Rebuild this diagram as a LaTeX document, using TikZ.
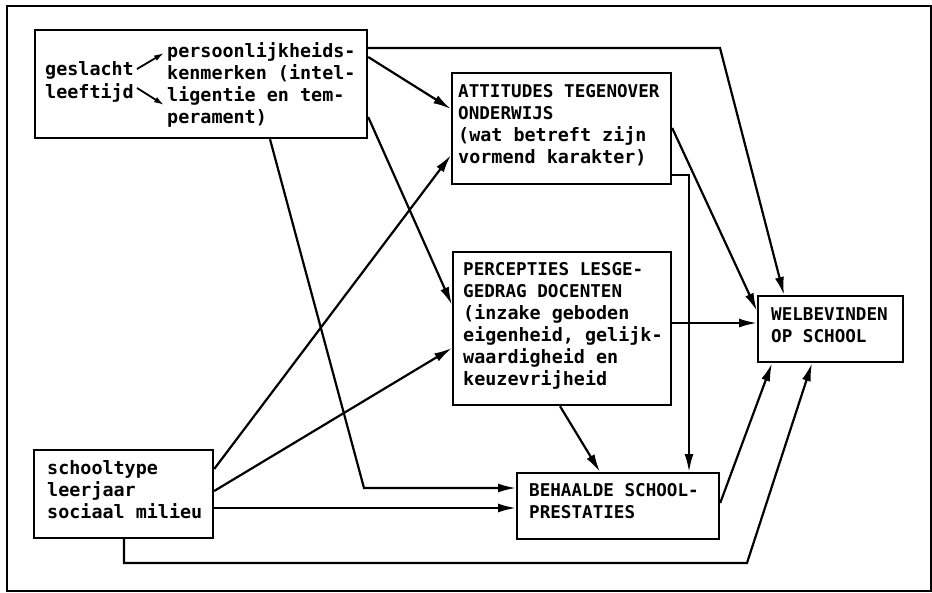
\documentclass[tikz,border=0pt]{standalone}
\usepackage{fontspec}
\newfontfamily\pf{DejaVu Sans Mono}
\newcommand{\upc}[1]{{\fontsize{17.6}{22}\selectfont #1}}
\usetikzlibrary{arrows.meta,calc}
\begin{document}
\begin{tikzpicture}[x=1pt,y=-1pt,
 boxx/.style={draw,line width=2.2pt,inner sep=0pt,anchor=north west},
 txt/.style={font=\pf\bfseries\fontsize{18.4}{22}\selectfont,inner sep=0pt,anchor=west,align=left},
 conn/.style={line width=2.2pt,-{Latex[length=18pt,width=9pt]}},
 small/.style={line width=1.8pt,-{Latex[length=10pt,width=6pt]}}]
\useasboundingbox (0,0) rectangle (932,592);
\node[boxx,minimum width=924pt,minimum height=585pt] (frame) at (6,5) {};
\node[boxx,minimum width=332pt,minimum height=108pt] (box1) at (34,29) {};
\node[boxx,minimum width=219pt,minimum height=111pt] (att) at (451,72) {};
\node[boxx,minimum width=218pt,minimum height=153pt] (perc) at (452,251) {};
\node[boxx,minimum width=145pt,minimum height=66pt] (wel) at (757,295) {};
\node[boxx,minimum width=202pt,minimum height=66pt] (beh) at (516,472) {};
\node[boxx,minimum width=179pt,minimum height=88pt] (sch) at (33,449) {};
% texts
\node[txt] (tg) at (45,70) {geslacht};
\node[txt] (tl) at (45,93) {leeftijd};
\node[txt] (tp) at (167,85) {persoonlijkheids-\\kenmerken (intel-\\ligentie en tem-\\perament)};
\node[txt] (ta) at (458,125) {\upc{ATTITUDES TEGENOVER}\\\upc{ONDERWIJS}\\(wat betreft zijn\\vormend karakter)};
\node[txt] (tpc) at (463,326) {\upc{PERCEPTIES LESGE-}\\\upc{GEDRAG DOCENTEN}\\(inzake geboden\\eigenheid, gelijk-\\waardigheid en\\keuzevrijheid};
\node[txt] (tw) at (771,325) {\upc{WELBEVINDEN}\\\upc{OP SCHOOL}};
\node[txt] (tb) at (529,501) {\upc{BEHAALDE SCHOOL-}\\\upc{PRESTATIES}};
\node[txt] (ts) at (47,490) {schooltype\\leerjaar\\sociaal milieu};
% small arrows
\coordinate (p1) at (164,53);
\coordinate (p2) at (164,105);
\draw[small] ($(tg.east)+(3,-1)$) -- (p1);
\draw[small] ($(tl.east)+(3,-5)$) -- (p2);
% connectors
\coordinate (c1) at (720,48);
\coordinate (c2) at (364,488);
\coordinate (c3) at (689,175);
\coordinate (c4) at (124,563);
\coordinate (c5) at (747,563);
\draw[conn] ($(box1.north east)+(0,28)$) -- ($(att.north west)+(0,37)$);
\draw[conn] ($(box1.north east)+(0,88)$) -- ($(perc.north west)+(0,54)$);
\draw[conn] ($(box1.north east)+(0,19)$) -- (c1) -- ($(wel.north west)+(27,0)$);
\draw[conn] ($(box1.south west)+(236,0)$) -- (c2) -- ($(beh.north west)+(0,16)$);
\draw[conn] ($(att.north east)+(0,56)$) -- ($(wel.north west)+(0,16)$);
\draw[conn] ($(att.north east)+(0,103)$) -- (c3) -- (c3 |- beh.north);
\draw[conn] ($(perc.north east)+(0,72)$) -- ($(wel.north west)+(0,28)$);
\draw[conn] ($(perc.south west)+(108,0)$) -- ($(beh.north west)+(84,0)$);
\draw[conn] ($(beh.north east)+(0,31)$) -- ($(wel.south west)+(15,0)$);
\draw[conn] ($(sch.south west)+(91,0)$) -- (c4) -- (c5) -- ($(wel.south west)+(55,0)$);
\draw[conn] ($(sch.north east)+(0,20)$) -- ($(att.north west)+(0,83)$);
\draw[conn] ($(sch.north east)+(0,42)$) -- ($(perc.north west)+(0,97)$);
\draw[conn] ($(sch.north east)+(0,59)$) -- ($(beh.north west)+(0,36)$);
\end{tikzpicture}
\end{document}
